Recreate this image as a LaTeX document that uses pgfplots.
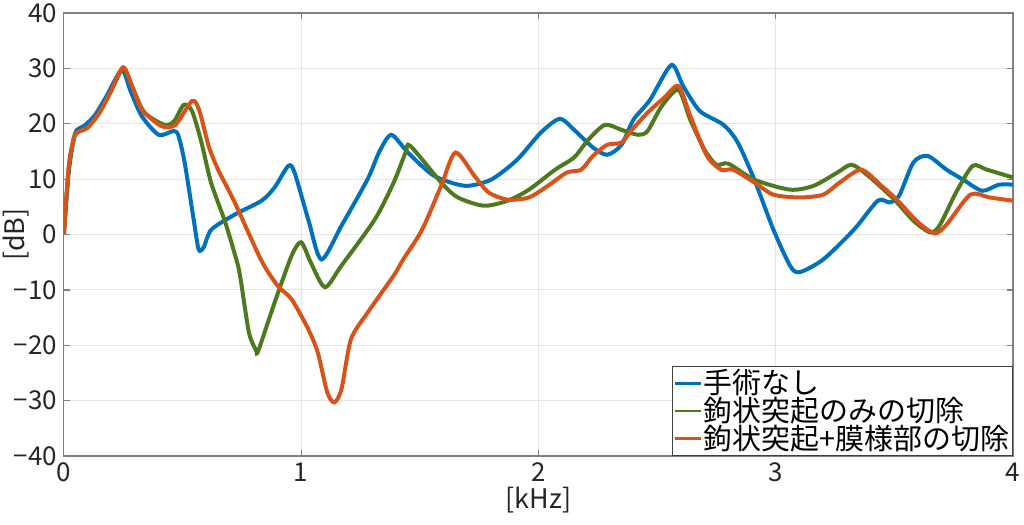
\documentclass[border=0pt]{standalone}
\usepackage{fontspec}
\setmainfont{Noto Sans CJK JP}
\usepackage{pgfplots}
\pgfplotsset{compat=1.18}
\usetikzlibrary{calc}
\definecolor{mblue}{HTML}{0072BD}
\definecolor{mgreen}{HTML}{4D7A1F}
\definecolor{morange}{HTML}{D95319}
\definecolor{axgray}{HTML}{808080}

\begin{document}
\begin{tikzpicture}
\begin{axis}[
  scale only axis, width=475.5pt, height=222pt,
  xmin=0, xmax=4, ymin=-40, ymax=40,
  xtick={0,1,2,3,4}, ytick={-40,-30,-20,-10,0,10,20,30,40},
  yticklabels={−40,−30,−20,−10,0,10,20,30,40},
  /pgf/number format/assume math mode=true,
  tick label style={font=\fontsize{13}{14}\selectfont, text=black!85},
  label style={font=\fontsize{13.5}{14}\selectfont, text=black!85},
  xlabel={[kHz]}, ylabel={[dB]},
  xlabel style={at={(axis description cs:0.5,-0.055)}, anchor=north},
  ylabel style={at={(axis description cs:-0.029,0.5)}, anchor=south},
  grid=major, major grid style={draw=black!10, line width=0.5pt},
  axis line style={draw=axgray, line width=0.6pt},
  tick style={draw=axgray, line width=0.6pt}, tick align=inside,
  major tick length=3pt,
  every axis plot/.append style={line width=2pt, smooth, tension=0.45},
  legend cell align=left,
  legend style={at={(1,0)}, anchor=south east,
    font=\fontsize{14.5}{15}\selectfont, draw=black!75, line width=0.5pt,
    inner sep=1pt, row sep=-1pt, column sep=0pt, nodes={inner sep=0.6pt}},
  legend image post style={line width=1.3pt},
  legend image code/.code={\draw[#1] (0pt,0pt) -- (13pt,0pt);},
]
\addplot[mblue] coordinates {
(0,0) (0.02,11) (0.04,17) (0.055,18.9) (0.085,19.6) (0.13,21.5) (0.18,25) (0.244,29.7) (0.28,26) (0.328,21.4) (0.40,18.0) (0.463,18.7) (0.483,17.8) (0.509,13.0) (0.547,2.7) (0.568,-2.7) (0.589,-2.3) (0.622,0.9) (0.72,3.6) (0.833,6.1) (0.888,8.5) (0.946,12.4) (0.972,11.2) (1.03,2.7) (1.085,-4.5) (1.17,1.6) (1.28,10) (1.33,15) (1.38,18.0) (1.45,14.8) (1.56,10.6) (1.69,8.8) (1.80,9.9) (1.91,13.5) (2.01,18.4) (2.09,20.9) (2.15,18.9) (2.23,15.7) (2.29,14.4) (2.35,16.2) (2.40,20.7) (2.47,24.3) (2.56,30.6) (2.61,26.8) (2.68,22.3) (2.78,19.8) (2.84,16.6) (2.91,9.9) (2.99,0.9) (3.06,-5.6) (3.10,-6.8) (3.20,-4.5) (3.33,0.9) (3.43,6.1) (3.48,5.8) (3.52,7.0) (3.58,13.0) (3.64,14.2) (3.72,11.7) (3.79,9.9) (3.87,7.9) (3.94,9.0) (4.0,9.0)
};
\addlegendentry{手術なし}
\addplot[mgreen] coordinates {
(0,0) (0.02,12) (0.04,17) (0.055,18.4) (0.1,19.3) (0.15,22) (0.2,26) (0.25,30) (0.29,26.5) (0.34,22) (0.425,19.8) (0.465,20.5) (0.505,23.4) (0.54,22.3) (0.58,16.6) (0.62,9.4) (0.68,2.2) (0.73,-5) (0.745,-8.1) (0.78,-17.7) (0.81,-20.9) (0.82,-20.9) (0.888,-12.3) (0.96,-3.8) (1.0,-1.4) (1.04,-5.0) (1.10,-9.5) (1.17,-5.6) (1.31,2.7) (1.39,9.4) (1.44,14.8) (1.46,16.0) (1.59,9.4) (1.66,6.7) (1.77,5.2) (1.87,6.1) (1.96,8.1) (2.07,11.7) (2.15,13.9) (2.21,17.1) (2.28,19.8) (2.35,18.9) (2.42,18.0) (2.46,18.7) (2.52,23.2) (2.59,26.1) (2.64,20.7) (2.70,15.3) (2.75,12.6) (2.80,12.8) (2.91,9.9) (3.06,8.1) (3.16,8.8) (3.26,11.2) (3.32,12.6) (3.39,10.6) (3.50,6.3) (3.58,2.5) (3.65,0.4) (3.69,1.6) (3.76,7.6) (3.83,12.4) (3.89,11.7) (4.0,10.3)
};
\addlegendentry{鉤状突起のみの切除}
\addplot[morange] coordinates {
(0,0) (0.02,12) (0.04,17) (0.055,18.4) (0.1,19.3) (0.15,22) (0.2,26) (0.25,30.2) (0.29,26.5) (0.33,22.5) (0.41,19.6) (0.47,19.8) (0.54,24.1) (0.57,22.5) (0.61,16.0) (0.65,11.7) (0.72,5.8) (0.83,-4.5) (0.90,-9.2) (0.96,-11.7) (1.03,-17.1) (1.07,-21.3) (1.11,-28.5) (1.14,-30.3) (1.17,-27.9) (1.21,-18.9) (1.28,-14.1) (1.39,-7.4) (1.43,-4.5) (1.51,0.9) (1.59,8.8) (1.65,14.8) (1.73,10.6) (1.79,7.6) (1.87,6.3) (1.96,6.7) (2.04,8.8) (2.12,11.2) (2.18,11.7) (2.23,14.2) (2.29,16.2) (2.35,16.6) (2.39,18.7) (2.46,22.0) (2.53,24.7) (2.59,26.8) (2.64,21.4) (2.71,14.2) (2.77,11.7) (2.82,11.7) (2.91,9.4) (2.99,7.2) (3.10,6.7) (3.20,7.2) (3.27,9.4) (3.36,11.7) (3.44,9.0) (3.51,6.3) (3.60,2.2) (3.67,0.2) (3.72,1.8) (3.82,7.2) (3.90,6.7) (4.0,6.1)
};
\addlegendentry{鉤状突起+膜様部の切除}
\coordinate (sw) at (rel axis cs:0,0);
\coordinate (ne) at (rel axis cs:1,1);
\end{axis}
\pgfresetboundingbox
\path[use as bounding box] ($(sw)+(-32pt,-34.5pt)$) rectangle ($(ne)+(5.5pt,6.5pt)$);
\end{tikzpicture}
\end{document}
